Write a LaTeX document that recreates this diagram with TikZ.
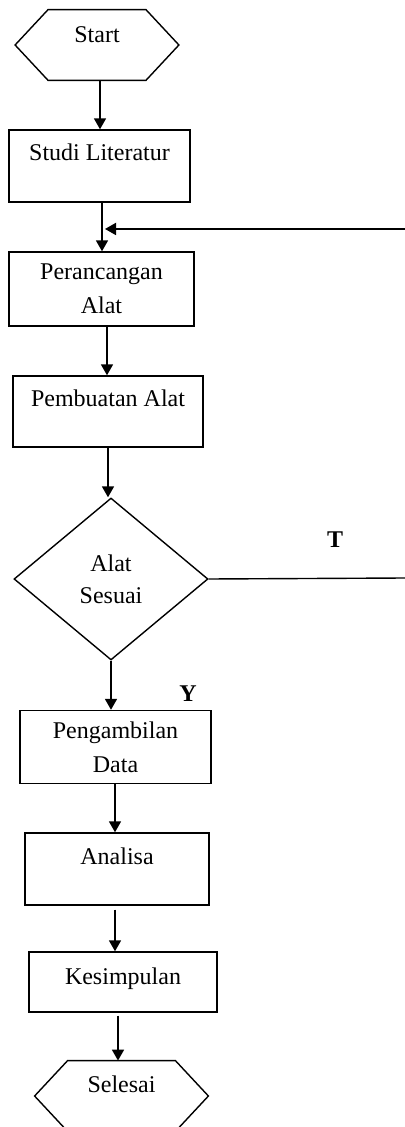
\documentclass[tikz,border=0pt]{standalone}
\usepackage{fontspec}
\setmainfont{Liberation Serif}
\usetikzlibrary{shapes.geometric,arrows.meta}
\tikzset{
    box/.style={draw, line width=0.7pt, rectangle, inner sep=2pt, font=\fontsize{12}{17}\selectfont, align=center},
    term/.style={rectangle, inner sep=2pt, font=\fontsize{12}{17}\selectfont},
    txt/.style={text height=8pt, text depth=#1},
    choice/.style={draw, line width=0.7pt, diamond, inner sep=0pt, font=\fontsize{12}{16}\selectfont, align=center},
    arr/.style={-{Triangle[width=6pt,length=5.5pt]}, line width=0.9pt},
    link/.style={line width=0.7pt},
    answer/.style={font=\fontsize{12}{14}\selectfont\bfseries}
}

\begin{document}
\begin{tikzpicture}[x=0.5pt, y=-0.5pt]
    \useasboundingbox (0,0) rectangle (405,1127);

    % Terminals and process boxes
    \node[term, txt=10pt, minimum width=81.5pt, minimum height=35pt] (start) at (97,45) {Start};
    \node[box, txt=13pt, minimum width=90.5pt, minimum height=36pt] (studi) at (99.5,166) {Studi Literatur};
    \node[box, minimum width=92.5pt, minimum height=37pt] (peran) at (101.5,289) {Perancangan\\Alat};
    \node[box, txt=12.5pt, minimum width=95pt, minimum height=35.5pt] (buat) at (108,411.5) {Pembuatan Alat};
    \node[choice, minimum width=97pt, minimum height=81pt] (sesuai) at (111,579) {Alat\\Sesuai};
    \node[box, minimum width=95.5pt, minimum height=36.5pt] (ambil) at (115.5,747) {Pengambilan\\Data};
    \node[box, txt=13pt, minimum width=92pt, minimum height=36pt] (analisa) at (117,869) {Analisa};
    \node[box, txt=6pt, minimum width=94pt, minimum height=30pt] (simpul) at (123,982) {Kesimpulan};
    \node[term, txt=12pt, minimum width=86.5pt, minimum height=35pt] (selesai) at (121.5,1096) {Selesai};

    % Hexagon outlines
    \foreach \n in {start,selesai}
        \draw[link] (\n.west) -- ([xshift=16.5pt]\n.north west) -- ([xshift=-16.5pt]\n.north east)
            -- (\n.east) -- ([xshift=-16.5pt]\n.south east) -- ([xshift=16.5pt]\n.south west) -- cycle;

    % Labels
    \node[answer] (tlab) at (335,540) {T};
    \node[answer] (ylab) at (188,694) {Y};

    % Loose ends at the right border
    \coordinate (back) at (405,229);
    \coordinate (tend) at (405,578);

    % Main flow
    \draw[arr] ([xshift=1.5pt]start.south) -- ([xshift=1.5pt]start.south |- studi.north);
    \draw[arr] ([xshift=1.25pt]studi.south) -- ([xshift=1.25pt]studi.south |- peran.north);
    \draw[arr] ([xshift=2.75pt]peran.south) -- ([xshift=2.75pt]peran.south |- buat.north);
    \draw[arr] (buat.south) -- (buat.south |- sesuai.north);
    \draw[arr] (sesuai.south) -- (sesuai.south |- ambil.north);
    \draw[arr] ([xshift=-0.25pt]ambil.south) -- ([xshift=-0.25pt]ambil.south |- analisa.north);
    \draw[arr] ([xshift=-1pt,yshift=-2pt]analisa.south) -- ([xshift=-1pt]analisa.south |- simpul.north);
    \draw[arr] ([xshift=-2.5pt,yshift=-1.5pt]simpul.south) -- ([xshift=-2.5pt]simpul.south |- selesai.north);

    % Loop back
    \draw[link] (sesuai.east) -- (tend);
    \draw[arr] (back) -- ([xshift=2.75pt]back -| studi.south);
\end{tikzpicture}
\end{document}
